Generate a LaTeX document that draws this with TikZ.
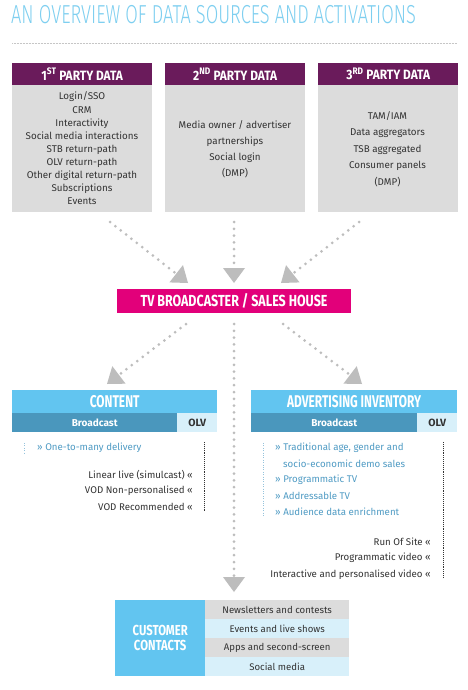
\documentclass[tikz,border=0pt]{standalone}
\usepackage{fontspec}
\setmainfont{Fira Sans}
\newfontfamily\headfont[FakeStretch=0.70]{Fira Sans}
\newfontfamily\partyfont[FakeStretch=0.88]{Fira Sans}
\newfontfamily\tvfont[FakeStretch=0.78]{Fira Sans}
\newfontfamily\titlefont[FakeStretch=0.70,UprightFont=* Light]{Fira Sans}
\usetikzlibrary{arrows.meta}
\definecolor{titleblue}{HTML}{7ECFF0}
\definecolor{purp}{HTML}{6A1B5B}
\definecolor{tvpink}{HTML}{E2007A}
\definecolor{boxgray}{HTML}{DCDCDC}
\definecolor{arrowgray}{HTML}{BDBDBD}
\definecolor{hdrblue}{HTML}{62C5F0}
\definecolor{barblue}{HTML}{4A97BD}
\definecolor{paleblue}{HTML}{D8F0FA}
\definecolor{txtblue}{HTML}{4F9BC4}
\definecolor{txtgray}{HTML}{333333}
\tikzset{
  hdr/.style={fill=purp, text=white, inner sep=0pt, anchor=north west,
    minimum width=140pt, minimum height=22pt,
    font=\partyfont\bfseries\fontsize{13.5}{13.5}\selectfont},
  graybody/.style={fill=boxgray, inner sep=0pt, anchor=north west,
    minimum width=140pt, minimum height=127pt},
  bodytxt/.style={text=txtgray, align=center, inner sep=0pt},
  bigdots/.style={draw=arrowgray, line width=3pt, line cap=round,
    dash pattern=on 0pt off 6.8pt,
    -{Triangle[width=22pt,length=15pt,line width=0pt]}},
  bluehdr/.style={fill=hdrblue, text=white, inner sep=0pt, anchor=north west,
    minimum height=23pt, font=\headfont\bfseries\fontsize{17}{17}\selectfont},
  bcbar/.style={fill=barblue, text=white, inner sep=0pt, anchor=north west,
    minimum height=19pt, font=\bfseries\fontsize{10}{10}\selectfont},
  olvcell/.style={fill=paleblue, text=txtgray, inner sep=0pt, anchor=north west,
    minimum height=19pt, font=\bfseries\fontsize{10.5}{10.5}\selectfont},
  bluetxt/.style={text=txtblue, inner sep=0pt, anchor=west, font=\fontsize{9.7}{9.7}\selectfont},
  darktxt/.style={text=txtgray, inner sep=0pt, anchor=east, font=\fontsize{9.7}{9.7}\selectfont},
  lightvdots/.style={draw=txtblue!60, line width=0.8pt, dash pattern=on 0.8pt off 1.6pt},
  darkvdots/.style={draw=txtgray, line width=0.7pt, dash pattern=on 0.7pt off 1.2pt},
  ccrow/.style={inner sep=0pt, anchor=north west, minimum width=144pt,
    minimum height=19pt, text=txtgray, font=\fontsize{9.6}{9.6}\selectfont},
}
\begin{document}
\begin{tikzpicture}[x=1pt,y=-1pt]
\useasboundingbox[fill=white] (0,0) rectangle (467,690);
% title
\node[anchor=west, inner sep=0pt, text=titleblue,
  font=\titlefont\fontsize{26}{26}\selectfont] (title) at (11,15) {AN OVERVIEW OF DATA SOURCES AND ACTIVATIONS};
\draw[draw=gray!45, line width=0.6pt, dash pattern=on 0.6pt off 0.9pt] (12,43) -- (457,43);
% three source boxes
\node[graybody] (b1) at (12,85) {};
\node[hdr] (h1) at (12,63) {1\textsuperscript{ST} PARTY DATA};
\node[graybody] (b2) at (165,85) {};
\node[hdr] (h2) at (165,63) {2\textsuperscript{ND} PARTY DATA};
\node[graybody] (b3) at (318,85) {};
\node[hdr] (h3) at (318,63) {3\textsuperscript{RD} PARTY DATA};
\node[bodytxt, font=\fontsize{9.8}{13.1}\selectfont] (t1) at (82,148.5)
  {Login/SSO\\CRM\\Interactivity\\Social media interactions\\STB return-path\\OLV return-path\\Other digital return-path\\Subscriptions\\Events};
\node[bodytxt, font=\fontsize{9.8}{16}\selectfont] (t2) at (235,149)
  {Media owner / advertiser\\partnerships\\Social login\\(DMP)};
\node[bodytxt, font=\fontsize{9.8}{16.5}\selectfont] (t3) at (387.5,149)
  {TAM/IAM\\Data aggregators\\TSB aggregated\\Consumer panels\\(DMP)};
% broadcaster
\node[fill=tvpink, text=white, inner sep=0pt, minimum width=234pt, minimum height=24pt,
  font=\tvfont\bfseries\fontsize{16}{16}\selectfont] (tv) at (234,301) {TV BROADCASTER / SALES HOUSE};
% arrows in
\coordinate (a1s) at (110,222); \coordinate (a1e) at (188,283);
\coordinate (a2s) at (234,222); \coordinate (a2e) at (234,283);
\coordinate (a3s) at (359,222); \coordinate (a3e) at (281,283);
\draw[bigdots] (a1s) -- (a1e);
\draw[bigdots] (a2s) -- (a2e);
\draw[bigdots] (a3s) -- (a3e);
% arrows out
\coordinate (o1s) at (186,324); \coordinate (o1e) at (107,384);
\coordinate (o2s) at (234,324); \coordinate (o2e) at (234,592);
\coordinate (o3s) at (283,324); \coordinate (o3e) at (362,384);
\draw[bigdots] (o1s) -- (o1e);
\draw[bigdots] (o2s) -- (o2e);
\draw[bigdots] (o3s) -- (o3e);
% content box
\node[bluehdr, minimum width=205pt] (content) at (12,390) {CONTENT};
\node[bcbar, minimum width=165pt] (cbc) at (12,413) {Broadcast};
\node[olvcell, minimum width=40pt] (colv) at (177,413) {OLV};
\draw[lightvdots] (24,443) -- (24,453);
\node[bluetxt] (c1) at (37,448) {» One-to-many delivery};
\draw[darkvdots] (204,442) -- (204,512);
\node[darktxt] (c2) at (193,475) {Linear live (simulcast) «};
\node[darktxt] (c3) at (193,491) {VOD Non-personalised «};
\node[darktxt] (c4) at (193,507) {VOD Recommended «};
% advertising inventory
\node[bluehdr, minimum width=206pt] (adv) at (251,390) {ADVERTISING INVENTORY};
\node[bcbar, minimum width=166pt] (abc) at (251,413) {Broadcast};
\node[olvcell, minimum width=40pt] (aolv) at (417,413) {OLV};
\draw[lightvdots] (263,443) -- (263,517);
\draw[darkvdots] (443,442) -- (443,578);
\node[bluetxt] (d1) at (275,448) {» Traditional age, gender and};
\node[bluetxt] (d2) at (283,464) {socio-economic demo sales};
\node[bluetxt] (d3) at (275,480) {» Programmatic TV};
\node[bluetxt] (d4) at (275,496) {» Addressable TV};
\node[bluetxt] (d5) at (275,512) {» Audience data enrichment};
\node[darktxt] (e1) at (431,542) {Run Of Site «};
\node[darktxt] (e2) at (431,558) {Programmatic video «};
\node[darktxt] (e3) at (431,575) {Interactive and personalised video «};
% customer contacts
\node[fill=hdrblue, text=white, inner sep=0pt, anchor=north west, minimum width=90pt,
  minimum height=76pt, align=center,
  font=\tvfont\bfseries\fontsize{14.5}{15}\selectfont] (cc) at (115,600) {CUSTOMER\\CONTACTS};
\node[ccrow, fill=boxgray] (r1) at (205,600) {Newsletters and contests};
\node[ccrow, fill=paleblue] (r2) at (205,619) {Events and live shows};
\node[ccrow, fill=boxgray] (r3) at (205,638) {Apps and second-screen};
\node[ccrow, fill=paleblue] (r4) at (205,657) {Social media};
\end{tikzpicture}
\end{document}
